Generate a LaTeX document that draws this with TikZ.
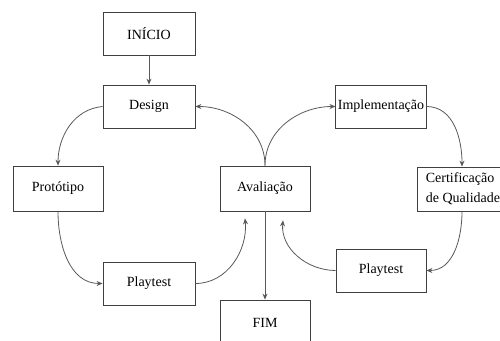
\documentclass[tikz,border=0pt]{standalone}
\usepackage{fontspec}
\setmainfont{Liberation Serif}
\usetikzlibrary{arrows.meta,positioning}

\begin{document}
\begin{tikzpicture}[x=1pt, y=-1pt]
		\tikzstyle{every node}=[font=\fontsize{14}{17}\selectfont]
		\tikzstyle{etapa}=[draw=black!75, line width=0.8pt, minimum width=92pt, minimum height=43pt, inner sep=2pt]
		\tikzstyle{seta}=[draw=black!65, line width=0.8pt, -{Stealth[length=6pt, width=5pt]}]
		\useasboundingbox (0,0) rectangle (500,340);
		\node [etapa] (inicio) at (149,33.5) {INÍCIO};
		\node [etapa] (design) at (149,106.5) {Design};
		\node [etapa, minimum width=90pt, minimum height=45pt] (prototipo) at (58,188.5) {Protótipo};
		\node [etapa] (play1) at (149,283.5) {Playtest};
		\node [etapa, minimum width=90pt, minimum height=45pt] (aval) at (265,188.5) {Avaliação};
		\node [etapa, minimum width=90pt, minimum height=46pt] (fim) at (265,323) {FIM};
		\node [etapa, minimum width=90pt] (impl) at (381,106.5) {Implementação};
		\node [etapa, minimum width=92pt, minimum height=44pt, align=left, font=\fontsize{14}{20}\selectfont] (cert) at (463,189) {Certificação\\de Qualidade};
		\node [etapa, minimum width=90pt] (play2) at (381,270.5) {Playtest};
		% ligacoes
		\draw [seta] (inicio) -- (design);
		\draw [seta] (design.west) to[out=185, in=90] (prototipo.north);
		\draw [seta] (prototipo.south) to[out=-90, in=180] (play1.west);
		\draw [seta] (play1.east) to[out=0, in=-85] ([xshift=-20pt, yshift=-7pt]aval.south);
		\draw [seta] (aval.north) to[out=90, in=0] (design.east);
		\draw [seta] (aval.north) to[out=90, in=180] (impl.west);
		\draw [seta] (impl.east) to[out=0, in=90] ([xshift=-1pt]cert.north);
		\draw [seta] ([xshift=-1pt]cert.south) to[out=-90, in=0] (play2.east);
		\draw [seta] (play2.west) to[out=180, in=-95] ([xshift=18pt, yshift=-9pt]aval.south);
		\draw [seta] (aval) -- (fim);
\end{tikzpicture}
\end{document}
